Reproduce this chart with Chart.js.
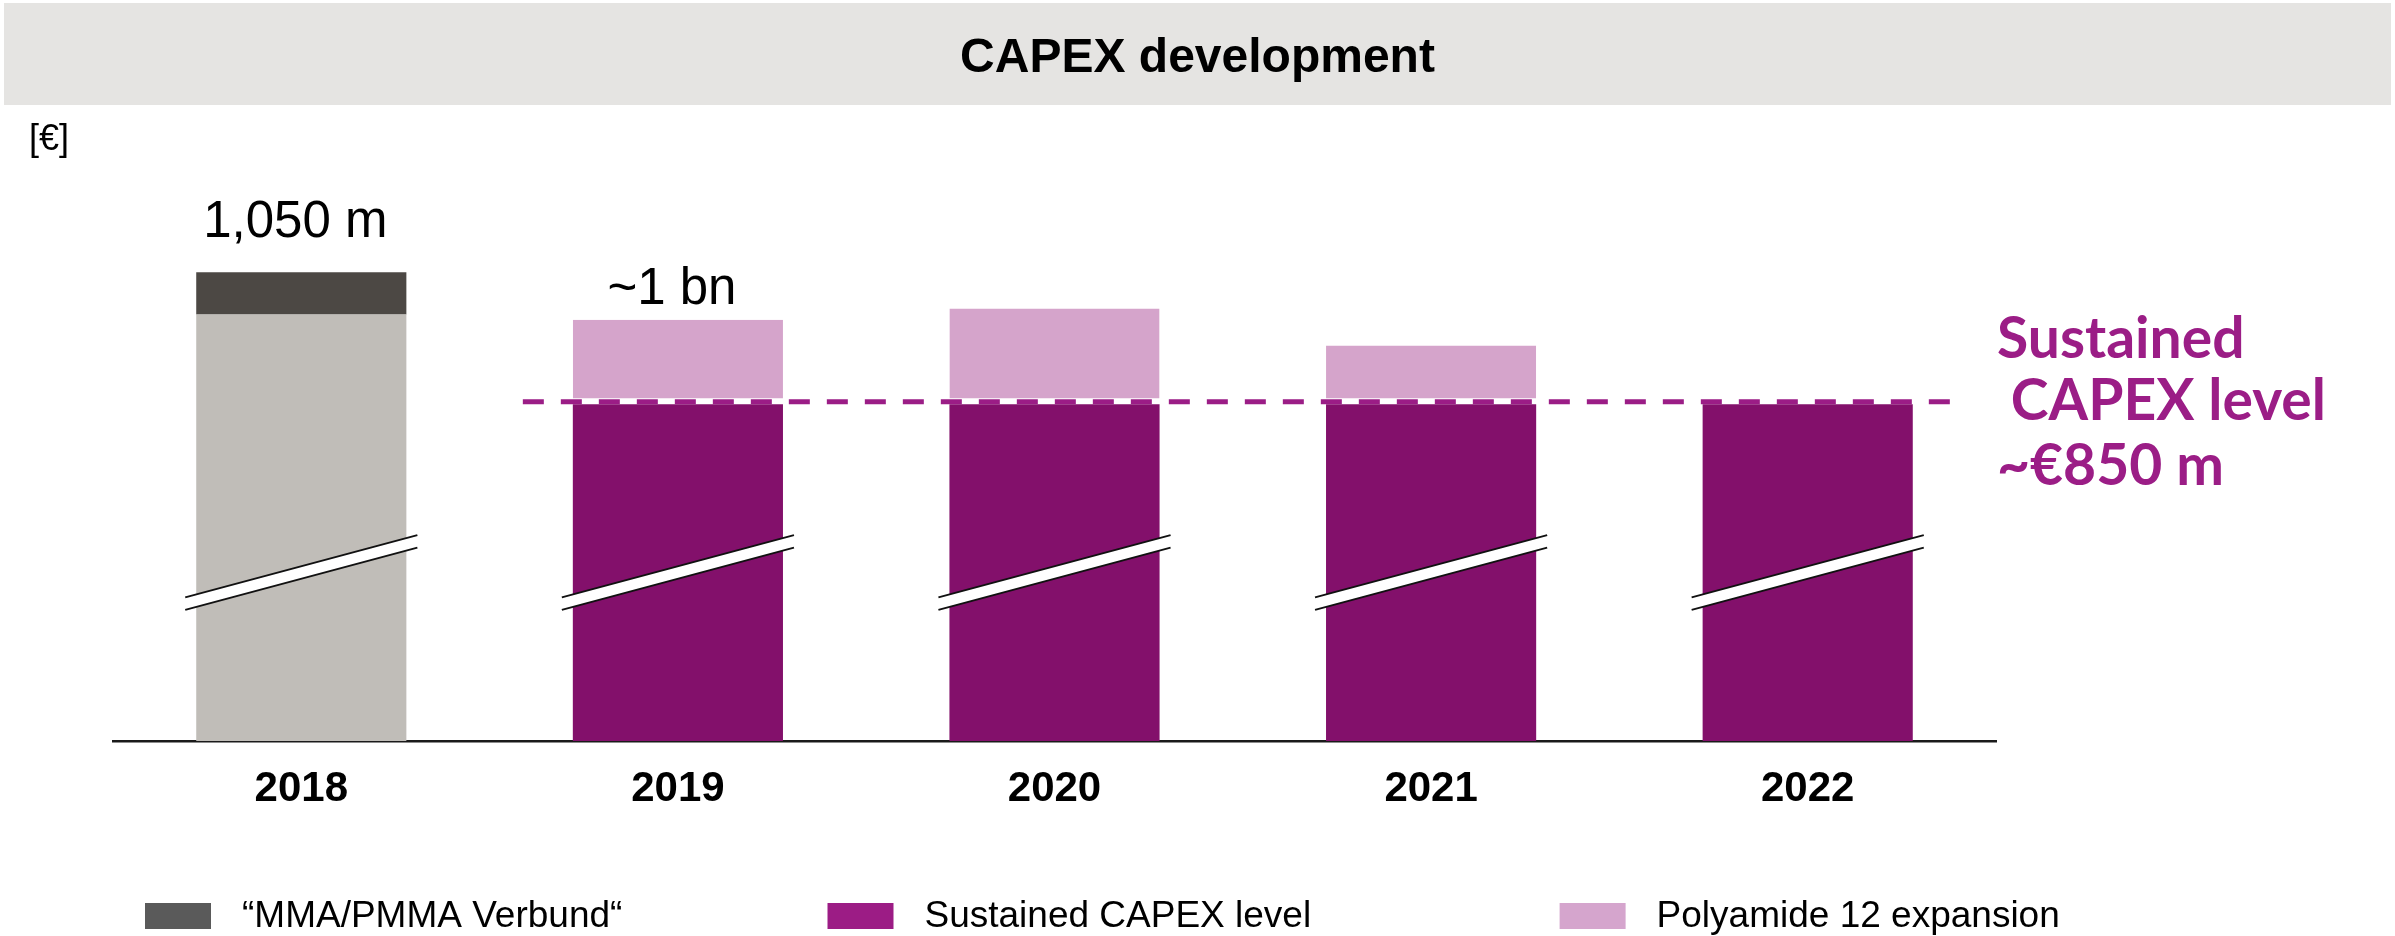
<!DOCTYPE html>
<html lang="en">
<head>
<meta charset="UTF-8">
<title>CAPEX development</title>
<script src="https://cdn.jsdelivr.net/npm/chart.js"></script>
<style>
  html, body { margin: 0; padding: 0; background: #fff; }
  #wrap { width: 2395px; height: 936px; }
</style>
</head>
<body>
<div id="wrap"><canvas id="capexChart" width="2395" height="936"></canvas></div>
<script>
// values in € m (axis is broken, so bars start below the visible area)
const years = ['2018', '2019', '2020', '2021', '2022'];
const capex2018Base = [986, null, null, null, null];
const mmaVerbund = [64, null, null, null, null];
const sustainedCapex = [null, 850, 850, 850, 850];
const polyamide12 = [null, 128, 145, 89, null];
const valueLabels = ['1,050 m', '~1 bn', '', '', ''];
const sustainedLevel = 850;
const annotationLines = ['Sustained', ' CAPEX level', '~€850 m'];

const ARIAL = '"Liberation Sans", Arial, sans-serif';
const PURPLE_TEXT = '#9b1d86';

function barAt(chart, i) {
  for (let d = 0; d < chart.data.datasets.length; d++) {
    const v = chart.data.datasets[d].data[i];
    if (v !== null && v !== undefined) return chart.getDatasetMeta(d).data[i];
  }
  return null;
}

function stackTotal(chart, i) {
  return chart.data.datasets.reduce((s, ds) => s + (ds.data[i] || 0), 0);
}

const framePlugin = {
  id: 'frame',
  beforeDraw(chart) {
    const ctx = chart.ctx;
    ctx.save();
    ctx.fillStyle = '#e5e4e2';
    ctx.fillRect(4, 3, chart.width - 8, 102);
    ctx.fillStyle = '#000';
    ctx.font = 'bold 48px ' + ARIAL;
    ctx.textAlign = 'center';
    ctx.fillText('CAPEX development', chart.width / 2, 72);
    ctx.textAlign = 'left';
    ctx.font = '36px ' + ARIAL;
    ctx.fillText('[€]', 29, 150);
    ctx.restore();
  },
  afterDatasetsDraw(chart) {
    const ctx = chart.ctx;
    const area = chart.chartArea;
    const y = chart.scales.y;
    ctx.save();

    // axis break marks
    const cy = area.bottom - 0.29 * (area.bottom - area.top);
    years.forEach((_, i) => {
      const el = barAt(chart, i);
      if (!el) return;
      const half = el.width / 2 + 11, slope = 0.268, gap = 12.5;
      const x0 = el.x - half, x1 = el.x + half;
      const up0 = cy - gap / 2 + half * slope, up1 = cy - gap / 2 - half * slope;
      ctx.fillStyle = '#fff';
      ctx.beginPath();
      ctx.moveTo(x0, up0); ctx.lineTo(x1, up1);
      ctx.lineTo(x1, up1 + gap); ctx.lineTo(x0, up0 + gap);
      ctx.closePath();
      ctx.fill();
      ctx.strokeStyle = '#111';
      ctx.lineWidth = 2;
      ctx.beginPath();
      ctx.moveTo(x0, up0); ctx.lineTo(x1, up1);
      ctx.moveTo(x0, up0 + gap); ctx.lineTo(x1, up1 + gap);
      ctx.stroke();
    });

    // sustained level dashed line
    const first = barAt(chart, 1), last = barAt(chart, 4);
    const ly = y.getPixelForValue(sustainedLevel) - 2.5;
    ctx.strokeStyle = PURPLE_TEXT;
    ctx.lineWidth = 5;
    ctx.setLineDash([21, 17]);
    ctx.beginPath();
    ctx.moveTo(first.x - first.width / 2 - 50, ly);
    ctx.lineTo(last.x + last.width / 2 + 41, ly);
    ctx.stroke();
    ctx.setLineDash([]);

    // annotation
    ctx.fillStyle = PURPLE_TEXT;
    ctx.font = 'bold 57px Lato, "Open Sans", sans-serif';
    ctx.textAlign = 'left';
    const offs = [-43.5, 18.5, 83.5];
    annotationLines.forEach((t, k) => ctx.fillText(t, area.right + 1, ly + offs[k]));

    // value labels above stacks
    const labelGap = [35, 16, 20, 20, 20];
    ctx.fillStyle = '#000';
    ctx.font = '51px ' + ARIAL;
    ctx.textAlign = 'center';
    valueLabels.forEach((t, i) => {
      if (!t) return;
      const el = barAt(chart, i);
      ctx.fillText(t, el.x - 6, y.getPixelForValue(stackTotal(chart, i)) - labelGap[i]);
    });

    // legend
    const legendX = [145, 827.5, 1559.6];
    const items = chart.data.datasets.filter(ds => ds.label).sort((a, b) => a.legendIndex - b.legendIndex);
    ctx.font = '37px ' + ARIAL;
    ctx.textAlign = 'left';
    items.forEach((ds, k) => {
      ctx.fillStyle = ds.legendColor;
      ctx.fillRect(legendX[k], 903, 66, 26);
      ctx.fillStyle = '#000';
      ctx.fillText(ds.label, legendX[k] + 97, 927);
    });
    ctx.restore();
  }
};

new Chart(document.getElementById('capexChart'), {
  type: 'bar',
  data: {
    labels: years,
    datasets: [
      { label: '', data: capex2018Base, backgroundColor: '#c0bdb8' },
      { label: 'Sustained CAPEX level', data: sustainedCapex, backgroundColor: '#83106b',
        legendColor: '#9c1c85', legendIndex: 1 },
      { label: '\u201CMMA/PMMA Verbund\u201C', data: mmaVerbund, backgroundColor: '#4c4844',
        legendColor: '#5a5a5a', legendIndex: 0 },
      { label: 'Polyamide 12 expansion', data: polyamide12, backgroundColor: '#d5a4cb',
        borderColor: '#ffffff', borderWidth: { top: 0, left: 0, right: 0, bottom: 6 }, borderSkipped: false,
        legendColor: '#d5a5cd', legendIndex: 2 }
    ]
  },
  options: {
    responsive: false,
    animation: false,
    devicePixelRatio: 1,
    layout: { padding: { left: 113, right: 399, top: 160, bottom: 0 } },
    datasets: { bar: { barPercentage: 0.558, categoryPercentage: 1 } },
    plugins: {
      legend: { display: false },
      title: { display: false },
      tooltip: { enabled: false }
    },
    scales: {
      x: {
        stacked: true,
        grid: { display: false, drawTicks: false },
        border: { display: true, color: '#1a1a1a', width: 2.5 },
        ticks: { color: '#000', padding: 23, font: { family: ARIAL, size: 42, weight: 'bold' } },
        afterFit: s => { s.height = 195; }
      },
      y: {
        stacked: true,
        display: false,
        min: 340,
        max: 1220
      }
    }
  },
  plugins: [framePlugin]
});
</script>
</body>
</html>
